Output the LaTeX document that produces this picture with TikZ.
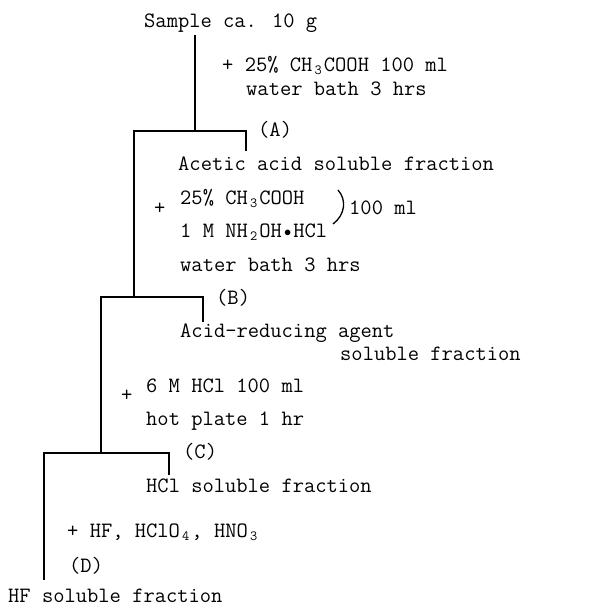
\documentclass[tikz,border=0pt]{standalone}
\usepackage{fontspec}
\newcommand{\lo}[1]{\makebox[11.5pt]{\raisebox{-3.5pt}{\fontsize{14}{14}\selectfont #1}}}
\newcommand{\dotc}{\makebox[11.5pt]{\raisebox{0.5pt}{$\scriptstyle\bullet$}}}
\begin{document}
\begin{tikzpicture}[x=1pt,y=-1pt,
  txt/.style={anchor=base west, inner sep=0pt, font=\ttfamily\fontsize{21.9}{22}\selectfont},
  ln/.style={line width=1.7pt, line cap=butt, line join=miter}]
\useasboundingbox (0,0) rectangle (615,606);
% texts
\node[txt] (sample) at (144,27) {Sample ca. 10 g};
\node[txt] (stepA1) at (222,71) {+ 25\% CH\lo{3}COOH 100 ml};
\node[txt] (stepA2) at (246,95) {water bath 3 hrs};
\node[txt] (labA) at (258,136) {(A)};
\node[txt] (fracA) at (178,170) {Acetic acid soluble fraction};
\node[txt] (plusB) at (154,214) {+};
\node[txt] (stepB1) at (180,204) {25\% CH\lo{3}COOH};
\node[txt] (stepB2) at (180,237) {1 M NH\lo{2}OH\dotc HCl};
\node[txt] (volB) at (349,214) {100 ml};
\node[txt] (stepB3) at (180,271) {water bath 3 hrs};
\node[txt] (labB) at (216,304) {(B)};
\node[txt] (fracB1) at (180,337) {Acid-reducing agent};
\node[txt] (fracB2) at (340,360) {soluble fraction};
\node[txt] (plusC) at (121,401) {+};
\node[txt] (stepC1) at (146,392) {6 M HCl 100 ml};
\node[txt] (stepC2) at (146,425) {hot plate 1 hr};
\node[txt] (labC) at (183,458) {(C)};
\node[txt] (fracC) at (146,492) {HCl soluble fraction};
\node[txt] (stepD) at (67,537) {+ HF, HClO\lo{4}, HNO\lo{3}};
\node[txt] (labD) at (69,572) {(D)};
\node[txt] (fracD) at (8,602) {HF soluble fraction};
% paren
\draw[line width=1.3pt] (338,190) .. controls (347,200) and (345,215) .. (333,224);
% junction coordinates
\coordinate (a0) at (195,35);
\coordinate (a1) at (195,131);
\coordinate (aL) at (134,131);
\coordinate (aR) at (246,131);
\coordinate (aRd) at (246,151);
\coordinate (b1) at (134,297);
\coordinate (bL) at (101,297);
\coordinate (bR) at (203,297);
\coordinate (bRd) at (203,322);
\coordinate (c1) at (101,453);
\coordinate (cL) at (44,453);
\coordinate (cR) at (169,453);
\coordinate (cRd) at (169,475);
\coordinate (d1) at (44,580);
% connectors
\draw[ln] (a0) -- (a1);
\draw[ln] ([xshift=-0.85pt]aL) -- (aR) -- (aRd);
\draw[ln] (aL) -- ([yshift=-0.85pt]b1);
\draw[ln] ([xshift=-0.85pt]bL) -- (bR) -- (bRd);
\draw[ln] (bL) -- ([yshift=-0.85pt]c1);
\draw[ln] ([xshift=-0.85pt]cL) -- (cR) -- (cRd);
\draw[ln] (cL) -- (d1);
\end{tikzpicture}
\end{document}
